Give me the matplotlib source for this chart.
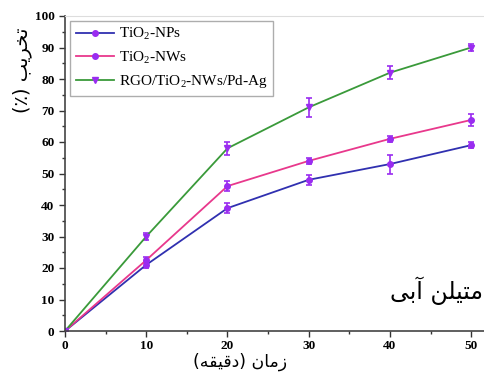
import matplotlib
matplotlib.use("Agg")
import matplotlib.pyplot as plt
from matplotlib.lines import Line2D
from matplotlib.ticker import MultipleLocator

plt.rcParams['font.family'] = ['Liberation Serif', 'DejaVu Sans']
plt.rcParams['mathtext.default'] = 'regular'

time_min = [0, 10, 20, 30, 40, 50]

nps_vals = [0, 21, 39, 48, 53, 59]
nps_err = [0, 1.0, 1.5, 1.5, 3.0, 1.0]

nws_vals = [0, 22.5, 46, 54, 61, 67]
nws_err = [0, 1.0, 1.5, 1.0, 1.0, 2.0]

rgo_vals = [0, 30, 58, 71, 82, 90]
rgo_err = [0, 1.0, 2.0, 3.0, 2.0, 1.0]

labels = ['TiO$_2$-NPs', 'TiO$_2$-NWs', 'RGO/TiO$_2$-NWs/Pd-Ag']
line_colors = ['#3030b0', '#e8388c', '#3a9a3a']
markers = ['o', 'o', 'v']
err_color = '#9a2cf0'

# Persian text written in visual order with presentation forms (no shaping in matplotlib)
xlabel_fa = '(\uFEEA\uFED8\uFEF4\uFED7\uFEA9) \uFEE5\uFE8E\uFEE3\uFEAF'
ylabel_fa = '(\u066A) \uFE90\uFEF3\uFEAE\uFEA8\uFE97'
mb_fa = '\uFEF0\uFE91\uFE81 \uFEE6\uFEE0\uFEF4\uFE98\uFEE3'

fig = plt.figure(figsize=(4.85, 3.72), dpi=100)
ax = fig.add_axes([65 / 485, 41 / 372, 420 / 485, 315 / 372])

series = [nps_vals, nws_vals, rgo_vals]
errs = [nps_err, nws_err, rgo_err]
handles = []
for vals, err, lab, col, mk in zip(series, errs, labels, line_colors, markers):
    ax.errorbar(time_min, vals, yerr=err, color=col, lw=1.3, marker=mk, ms=4,
                mfc=err_color, mec=err_color, ecolor=err_color, elinewidth=1.2,
                capsize=2.5, capthick=1.2)
    handles.append(Line2D([], [], color=col, lw=1.3, marker=mk, ms=4,
                          mfc=err_color, mec=err_color, label=lab))

ax.set_xlim(0, 51.7)
ax.set_ylim(0, 100)
ax.xaxis.set_major_locator(MultipleLocator(10))
ax.xaxis.set_minor_locator(MultipleLocator(5))
ax.yaxis.set_major_locator(MultipleLocator(10))
ax.yaxis.set_minor_locator(MultipleLocator(5))
ax.tick_params(which='major', direction='out', length=4, width=1, color='#333333')
ax.tick_params(which='minor', direction='out', length=2.5, width=1, color='#333333')
ax.tick_params(axis='x', pad=2.5)
for t in ax.get_xticklabels() + ax.get_yticklabels():
    t.set_fontweight('bold')
    t.set_fontsize(9.5)

ax.spines['right'].set_visible(False)
ax.spines['top'].set_color('#dddddd')
ax.spines['left'].set_color('#444444')
ax.spines['bottom'].set_color('#444444')
ax.spines['left'].set_linewidth(1.2)
ax.spines['bottom'].set_linewidth(1.2)

leg = ax.legend(handles=handles, loc='upper left', bbox_to_anchor=(0.005, 0.995),
                fontsize=11, frameon=True, fancybox=False, borderpad=0.35,
                labelspacing=0.5, handlelength=2.5, handletextpad=0.35,
                borderaxespad=0.2)
leg.get_frame().set_edgecolor('#999999')
leg.get_frame().set_linewidth(1.0)

fig.text(240 / 485, 1 - 362 / 372, xlabel_fa, family='DejaVu Sans', fontsize=12.5,
         ha='center', va='center')
fig.text(22 / 485, 1 - 70 / 372, ylabel_fa, family='DejaVu Sans', fontsize=14,
         ha='center', va='center', rotation=90)
fig.text(390 / 485, 1 - 291 / 372, mb_fa, family='DejaVu Sans', fontsize=17,
         ha='left', va='center')

fig.savefig('out.png', dpi=100)
